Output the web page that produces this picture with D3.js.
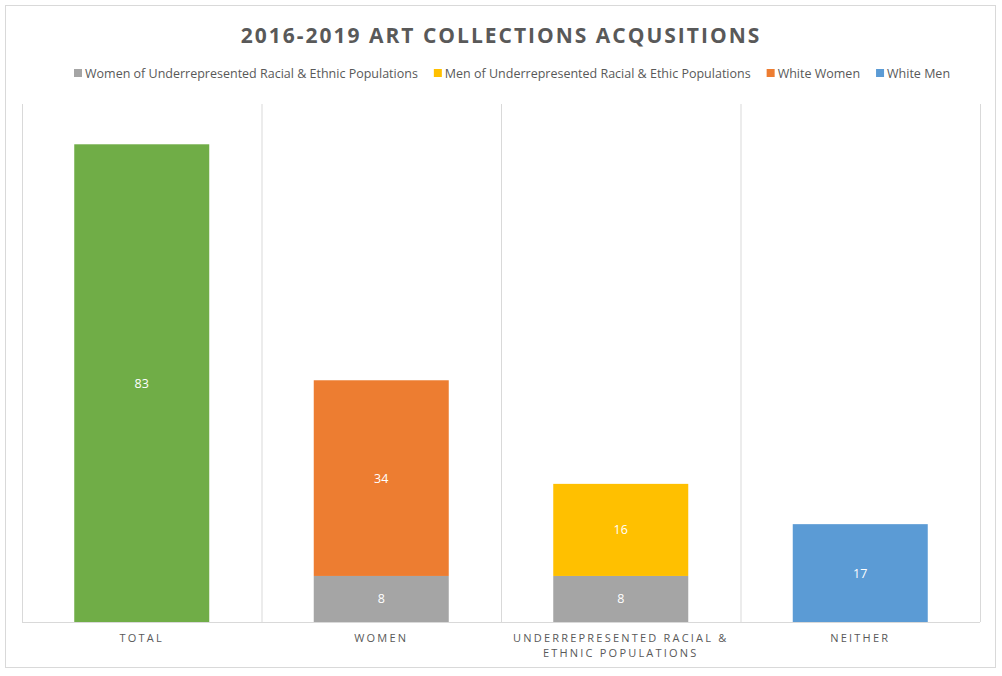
<!DOCTYPE html>
<html lang="en">
<head>
<meta charset="UTF-8">
<title>2016-2019 Art Collections Acqusitions</title>
<style>
  body { margin: 0; background: #fff; font-family: "Open Sans", "Noto Sans", sans-serif; }
  svg { display: block; }
</style>
</head>
<body>
<svg id="chart" width="1002" height="676"></svg>
<script src="https://cdnjs.cloudflare.com/ajax/libs/d3/7.8.5/d3.min.js"></script>
<script>
// data
const categories = ["TOTAL", "WOMEN", "UNDERREPRESENTED RACIAL & ETHNIC POPULATIONS", "NEITHER"];
const categoryLines = [["TOTAL"], ["WOMEN"], ["UNDERREPRESENTED RACIAL &", "ETHNIC POPULATIONS"], ["NEITHER"]];
const seriesNames = ["Total", "Women of Underrepresented Racial & Ethnic Populations",
  "Men of Underrepresented Racial & Ethic Populations", "White Women", "White Men"];
const seriesColors = ["#70ad47", "#a5a5a5", "#ffc000", "#ed7d31", "#5b9bd5"];
const legendSeries = [1, 2, 3, 4];
// values per series, one per category
const total      = [83, 0, 0, 0];
const womenURM   = [0, 8, 8, 0];
const menURM     = [0, 0, 16, 0];
const whiteWomen = [0, 34, 0, 0];
const whiteMen   = [0, 0, 0, 17];
const seriesValues = [total, womenURM, menURM, whiteWomen, whiteMen];

const svg = d3.select("#chart");
svg.append("rect").attr("x", 5.5).attr("y", 5.5).attr("width", 990).attr("height", 662)
  .attr("fill", "#fff").attr("stroke", "#d9d9d9");

svg.append("text").attr("x", 501).attr("y", 43).attr("text-anchor", "middle")
  .attr("font-size", 21).attr("font-weight", "bold").attr("letter-spacing", 2)
  .attr("fill", "#595959").text("2016-2019 ART COLLECTIONS ACQUSITIONS");

// legend
const legend = svg.append("g").attr("font-size", 12.5).attr("fill", "#595959");
let lx = 74;
legendSeries.forEach(i => {
  const g = legend.append("g").attr("transform", `translate(${lx},68)`);
  g.append("rect").attr("width", 8).attr("height", 8).attr("y", 1).attr("fill", seriesColors[i]);
  const t = g.append("text").attr("x", 11).attr("y", 9.5).attr("fill", "#595959").text(seriesNames[i]);
  lx += 11 + t.node().getComputedTextLength() + 16;
});

const plotL = 22, plotR = 980, plotT = 104, plotB = 622;
const x = d3.scaleBand().domain(categories).range([plotL, plotR]).paddingInner(0).paddingOuter(0);
const y = d3.scaleLinear().domain([0, 90]).range([plotB, plotT]);

// vertical grid separators
const sep = [plotL, ...categories.map(c => x(c) + x.bandwidth())];
svg.append("g").selectAll("line").data(sep).join("line")
  .attr("x1", d => d + 0.5).attr("x2", d => d + 0.5).attr("y1", plotT).attr("y2", plotB)
  .attr("stroke", "#d9d9d9");

const rows = categories.map((c, ci) => {
  const r = { cat: c };
  seriesNames.forEach((s, si) => r[s] = seriesValues[si][ci]);
  return r;
});
const stack = d3.stack().keys(seriesNames)(rows);
const barW = 135;
const off = (x.bandwidth() - barW) / 2;

stack.forEach((layer, si) => {
  const g = svg.append("g");
  layer.forEach(d => {
    const v = d[1] - d[0];
    if (!v) return;
    const bx = x(d.data.cat) + off;
    g.append("rect").attr("x", bx).attr("width", barW)
      .attr("y", y(d[1])).attr("height", y(d[0]) - y(d[1])).attr("fill", seriesColors[si]);
    g.append("text").attr("x", bx + barW / 2).attr("y", (y(d[0]) + y(d[1])) / 2 + 4.5)
      .attr("text-anchor", "middle").attr("font-size", 12.5).attr("fill", "#fff").text(v);
  });
});

// axis
svg.append("line").attr("x1", plotL).attr("x2", plotR).attr("y1", plotB + 0.5).attr("y2", plotB + 0.5)
  .attr("stroke", "#d9d9d9");
categories.forEach((c, i) => {
  const cx = x(c) + x.bandwidth() / 2;
  const t = svg.append("text").attr("x", cx).attr("y", 642)
    .attr("text-anchor", "middle").attr("font-size", 11).attr("letter-spacing", 2.2).attr("fill", "#595959");
  categoryLines[i].forEach((ln, k) => t.append("tspan").attr("x", cx).attr("dy", k ? 15 : 0).text(ln));
});
</script>
</body>
</html>
